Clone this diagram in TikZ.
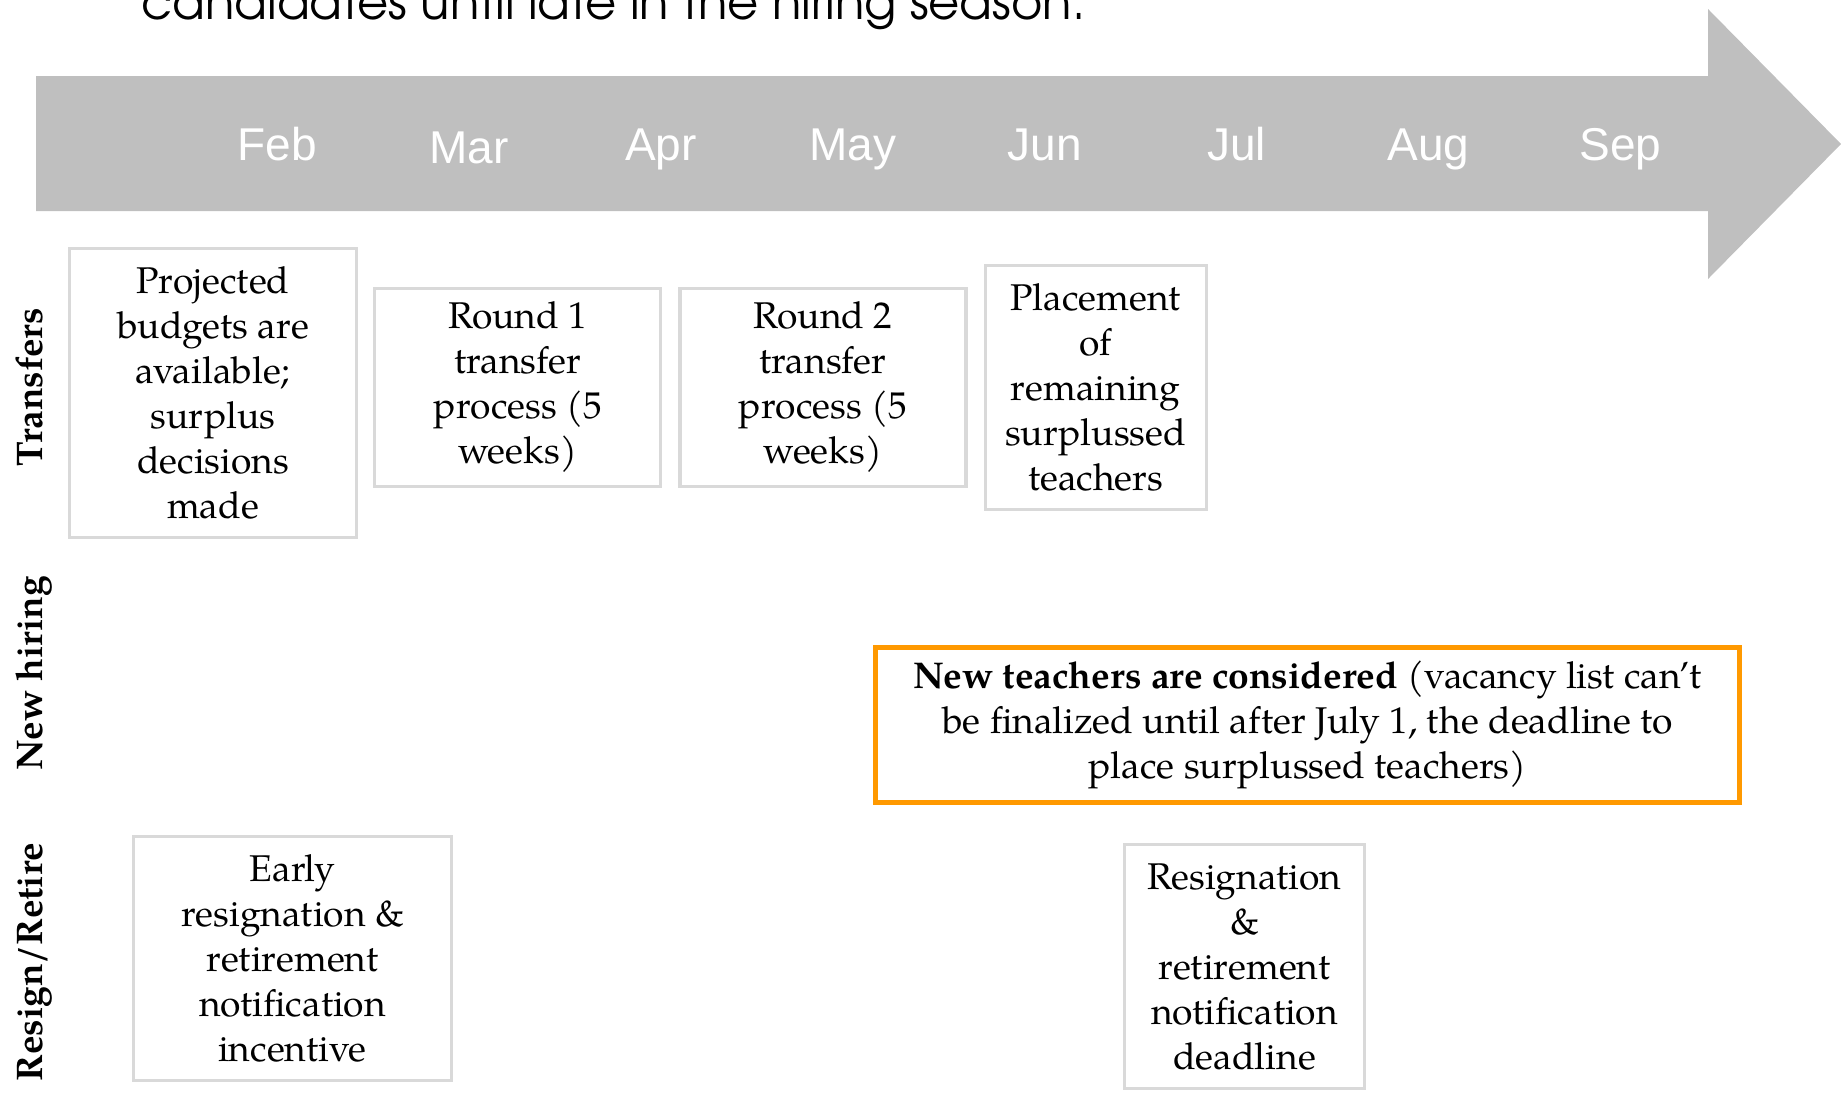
\documentclass[tikz,border=0pt]{standalone}
\usepackage{fontspec}
\setmainfont{texgyrepagella}[Extension=.otf, UprightFont=*-regular, BoldFont=*-bold]
\newfontfamily\monthfont{Liberation Sans}
\newfontfamily\titlefont{texgyreadventor}[Extension=.otf, UprightFont=*-regular]
\usetikzlibrary{positioning}
\definecolor{tlgray}{HTML}{BFBFBF}
\definecolor{tlbox}{HTML}{D9D9D9}
\definecolor{tlorange}{HTML}{FF9900}

\begin{document}
\begin{tikzpicture}[
  x=0.5pt, y=-0.5pt,
  node distance=7.5pt,
  event/.style={rectangle, draw=tlbox, line width=1.6pt, fill=white, align=center,
                inner sep=0pt, font=\fontsize{18.6}{22.5}\selectfont},
  hire/.style={rectangle, draw=tlorange, line width=2.5pt, fill=white, align=center,
               inner sep=0pt, font=\fontsize{18.6}{22.5}\selectfont},
  lane/.style={rotate=90, anchor=base, inner sep=0pt, font=\fontsize{18.5}{22}\selectfont\bfseries},
  month/.style={anchor=base, inner sep=0pt, text=white, font=\monthfont\fontsize{23}{27}\selectfont}
]
\useasboundingbox (0,0) rectangle (1841,1092);

\node[anchor=base west, inner sep=0pt, font=\titlefont\fontsize{24}{28}\selectfont] (title) at (141,19)
  {candidates until late in the hiring season.};

\fill[tlgray] (36,76) -- (1708,76) -- (1708,9) -- (1841,144) -- (1708,279) -- (1708,211) -- (36,211) -- cycle;
\foreach \m/\dy [count=\i from 0] in {Feb/0, Mar/3, Apr/0, May/0, Jun/0, Jul/0, Aug/0, Sep/0}
  \node[month] (m\i) at (277+191.9*\i, 160+\dy) {\m};

\node[lane] (lt) at (42,387) {Transfers};
\node[lane] (lh) at (42,673) {New hiring};
\node[lane] (lr) at (42,962) {Resign/Retire};

\node[event, minimum width=143.5pt, minimum height=144.5pt] (b1) at (213,393)
  {Projected\\ budgets are\\ available;\\ surplus\\ decisions\\ made};
\node[event, minimum width=143pt, minimum height=99pt, right=of b1, yshift=2.75pt] (b2)
  {Round 1\\ transfer\\ process (5\\ weeks)};
\node[event, minimum width=143pt, minimum height=99pt, right=8pt of b2] (b3)
  {Round 2\\ transfer\\ process (5\\ weeks)};
\node[event, minimum width=110.5pt, minimum height=122pt, right=8pt of b3] (b4)
  {Placement\\ of\\ remaining\\ surplussed\\ teachers};

\node[hire, minimum width=432pt, minimum height=77.5pt] (nh) at (1307.5,725)
  {\textbf{New teachers are considered} (vacancy list can’t\\ be finalized until after July 1, the deadline to\\ place surplussed teachers)};

\node[event, minimum width=159pt, minimum height=122pt] (r1) at (292.5,958.5)
  {Early\\ resignation \&\\ retirement\\ notification\\ incentive};
\node[event, minimum width=120pt, minimum height=122pt] (r2) at (1244.5,966.5)
  {Resignation\\ \&\\ retirement\\ notification\\ deadline};
\end{tikzpicture}
\end{document}
